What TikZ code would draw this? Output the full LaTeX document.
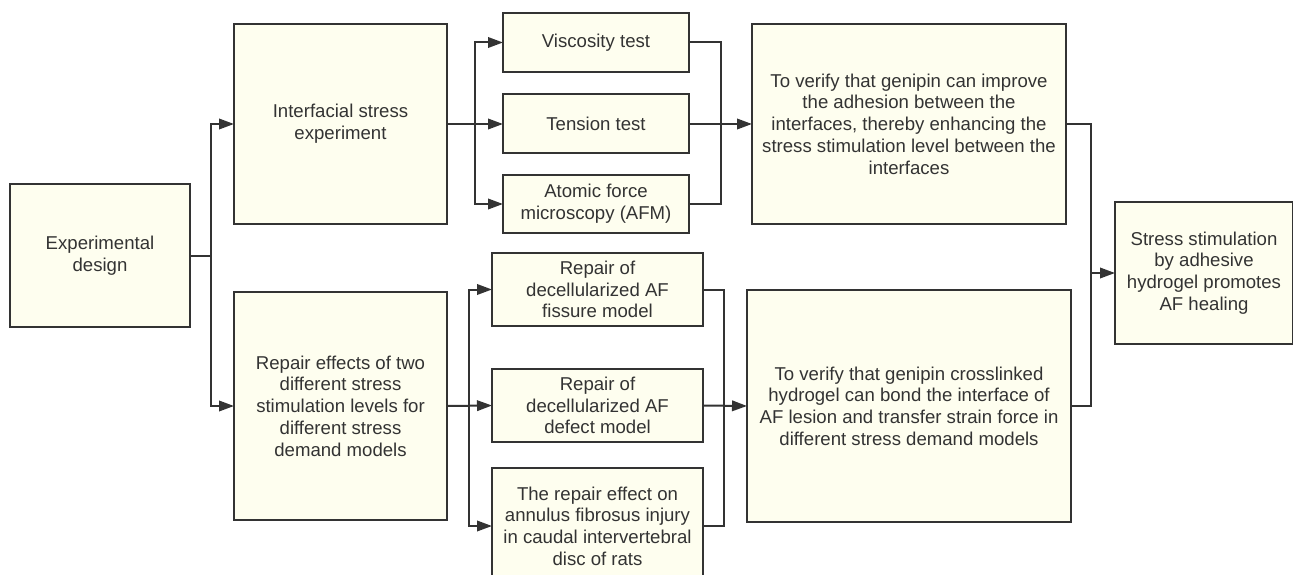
\documentclass[tikz,border=0pt]{standalone}
\usepackage{fontspec}
\setmainfont{Liberation Sans}
\usetikzlibrary{arrows.meta,calc}
\definecolor{boxfill}{HTML}{FEFEEF}
\definecolor{ink}{HTML}{333333}
\begin{document}
\begin{tikzpicture}[x=1pt,y=-1pt,
  box/.style={draw=ink,fill=boxfill,line width=2pt,inner sep=0pt,outer sep=0pt,
    align=center,text=ink,font=\fontsize{18.6}{21.7}\selectfont},
  conn/.style={draw=ink,line width=2pt},
  arr/.style={conn,-{Triangle[length=15pt,width=10.5pt]}}]
\useasboundingbox (0,0) rectangle (1293,575);
\clip (0,0) rectangle (1293,575);
\fill[white] (0,0) rectangle (1293,575);
% nodes
\node[box,minimum width=180pt,minimum height=143pt] (exp) at (100,255.5) {Experimental\\design};
\node[box,minimum width=213pt,minimum height=200pt] (inter) at (340.5,124) {Interfacial stress\\experiment};
\node[box,minimum width=213pt,minimum height=228pt] (rep) at (340.5,406) {Repair effects of two\\different stress\\stimulation levels for\\different stress\\demand models};
\node[box,minimum width=186pt,minimum height=59pt] (visc) at (596,42.5) {Viscosity test};
\node[box,minimum width=186pt,minimum height=59pt] (tens) at (596,124) {Tension test};
\node[box,minimum width=186pt,minimum height=58pt] (afm) at (596,204) {Atomic force\\microscopy (AFM)};
\node[box,minimum width=211pt,minimum height=73pt] (fiss) at (597.5,289.5) {Repair of\\decellularized AF\\fissure model};
\node[box,minimum width=211pt,minimum height=73pt] (def) at (597.5,405.5) {Repair of\\decellularized AF\\defect model};
\node[box,minimum width=211pt,minimum height=116pt] (rats) at (597.5,526) {The repair effect on\\annulus fibrosus injury\\in caudal intervertebral\\disc of rats};
\node[box,minimum width=314pt,minimum height=200pt] (ver1) at (909,124) {To verify that genipin can improve\\the adhesion between the\\interfaces, thereby enhancing the\\stress stimulation level between the\\interfaces};
\node[box,minimum width=324pt,minimum height=232pt] (ver2) at (909,406) {To verify that genipin crosslinked\\hydrogel can bond the interface of\\AF lesion and transfer strain force in\\different stress demand models};
\node[box,minimum width=178pt,minimum height=142pt] (fin) at (1204,273) {Stress stimulation\\by adhesive\\hydrogel promotes\\AF healing};
% junction coordinates
\coordinate (j0) at (211,255.5);
\coordinate (j1) at (475,124);
\coordinate (j2) at (721,124);
\coordinate (j3) at (469,406);
\coordinate (j4) at (724,406);
\coordinate (j5) at (1091,273);
% connectors
\draw[conn] (exp.east) -- (j0);
\draw[arr] (j0) |- (inter.west);
\draw[arr] (j0) |- (rep.west);
\draw[arr] (inter.east) -- (tens.west);
\draw[arr] (j1) |- (visc.west);
\draw[arr] (j1) |- (afm.west);
\draw[conn] (visc.east) -| (j2) |- (afm.east);
\draw[arr] (tens.east) -- (ver1.west);
\draw[arr] (rep.east) -- (def.west);
\draw[arr] (j3) |- (fiss.west);
\draw[arr] (j3) |- (rats.west);
\draw[conn] (fiss.east) -| (j4) |- (rats.east);
\draw[arr] (def.east) -- (ver2.west);
\draw[conn] (ver1.east) -| (j5) |- (ver2.east);
\draw[arr] (j5) -- (fin.west);
\end{tikzpicture}
\end{document}
